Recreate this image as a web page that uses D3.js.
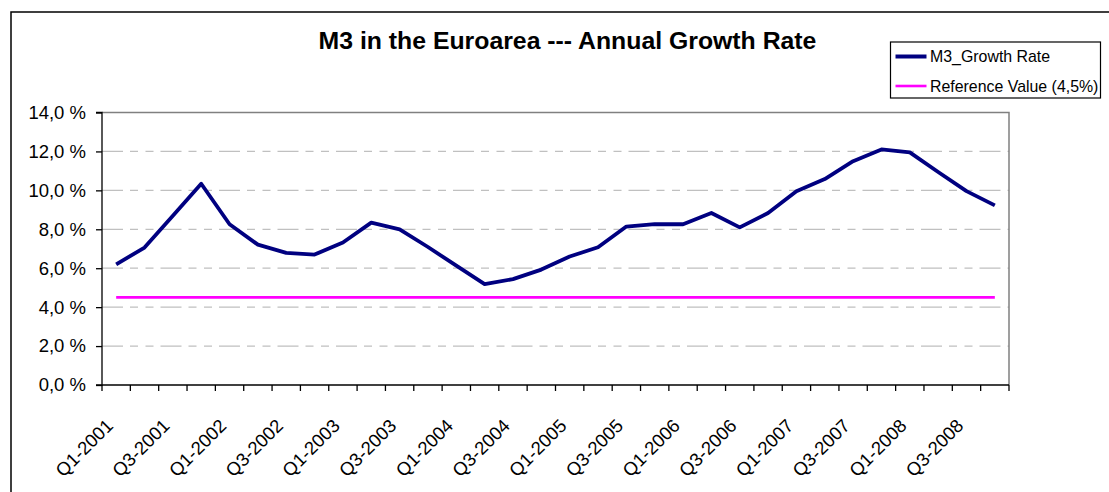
<!DOCTYPE html>
<html>
<head>
<meta charset="utf-8">
<script src="https://cdn.jsdelivr.net/npm/d3@7"></script>
<style>
  html, body { margin: 0; padding: 0; background: #fff; }
  svg { display: block; font-family: "Liberation Sans", Arial, sans-serif; }
</style>
</head>
<body>
<svg id="chart" width="1109" height="492"></svg>
<script>
const categories = [
  "Q1-2001","Q2-2001","Q3-2001","Q4-2001",
  "Q1-2002","Q2-2002","Q3-2002","Q4-2002",
  "Q1-2003","Q2-2003","Q3-2003","Q4-2003",
  "Q1-2004","Q2-2004","Q3-2004","Q4-2004",
  "Q1-2005","Q2-2005","Q3-2005","Q4-2005",
  "Q1-2006","Q2-2006","Q3-2006","Q4-2006",
  "Q1-2007","Q2-2007","Q3-2007","Q4-2007",
  "Q1-2008","Q2-2008","Q3-2008","Q4-2008"
];
const m3Growth = [
  6.2, 7.06, 8.7, 10.34,
  8.26, 7.21, 6.79, 6.70,
  7.32, 8.34, 8.0, 7.09,
  6.13, 5.18, 5.44, 5.93,
  6.6, 7.08, 8.14, 8.26,
  8.26, 8.84, 8.1, 8.84,
  9.96, 10.58, 11.5, 12.1,
  11.95, 10.94, 9.96, 9.23
];
const referenceValue = categories.map(() => 4.5);
const yTicks = [0, 2, 4, 6, 8, 10, 12, 14];
const xTickLabels = ["Q1-2001","Q3-2001","Q1-2002","Q3-2002","Q1-2003","Q3-2003","Q1-2004","Q3-2004",
  "Q1-2005","Q3-2005","Q1-2006","Q3-2006","Q1-2007","Q3-2007","Q1-2008","Q3-2008"];
const seriesNames = ["M3_Growth Rate", "Reference Value (4,5%)"];
const title = "M3 in the Euroarea --- Annual Growth Rate";

const svg = d3.select("#chart");
const W = 1109, H = 492;
const plot = { left: 102, right: 1009, top: 112.5, bottom: 385 };

const x = d3.scaleBand().domain(categories).range([plot.left, plot.right]);
const y = d3.scaleLinear().domain([0, 14]).range([plot.bottom, plot.top]);
const cx = d => x(d) + x.bandwidth() / 2;

const locale = d3.formatLocale({ decimal: ",", thousands: ".", grouping: [3], currency: ["", " €"] });
const fmt = locale.format(".1f");

// outer chart border (extends beyond the image on the right/bottom)
svg.append("rect")
  .attr("x", 11).attr("y", 12)
  .attr("width", W + 20).attr("height", H + 20)
  .attr("fill", "#fff").attr("stroke", "#000").attr("stroke-width", 1.5);

// gridlines
svg.append("g").selectAll("line").data(yTicks.filter(t => t > 0 && t < 14)).join("line")
  .attr("x1", plot.left).attr("x2", plot.right)
  .attr("y1", d => y(d)).attr("y2", d => y(d))
  .attr("stroke", "#c0c0c0").attr("stroke-width", 1.3)
  .attr("stroke-dasharray", "21,7,8,7.5,8,7");

// plot area border (top/right)
svg.append("path")
  .attr("d", `M${plot.left},${plot.top}H${plot.right}V${plot.bottom}`)
  .attr("fill", "none").attr("stroke", "#808080").attr("stroke-width", 1.5);

// y axis
const yAxis = d3.axisLeft(y).tickValues(yTicks).tickSize(6).tickPadding(10)
  .tickFormat(d => fmt(d) + " %");
const gy = svg.append("g").attr("transform", `translate(${plot.left},0)`).call(yAxis);
gy.select(".domain").attr("stroke", "#000").attr("stroke-width", 1.3).attr("d", `M-6,${plot.top}H0V${plot.bottom}H-6`);
gy.selectAll(".tick line").attr("stroke", "#000").attr("stroke-width", 1.3);
gy.selectAll(".tick text").attr("font-size", 18.5).attr("fill", "#000")
  .attr("font-family", "Liberation Sans, Arial, sans-serif");

// x axis
const gx = svg.append("g");
gx.append("line").attr("x1", plot.left).attr("x2", plot.right)
  .attr("y1", plot.bottom).attr("y2", plot.bottom).attr("stroke", "#000").attr("stroke-width", 1.3);
const boundaries = categories.map(c => x(c)).concat([plot.right]);
gx.selectAll("line.tk").data(boundaries).join("line").attr("class", "tk")
  .attr("x1", d => d).attr("x2", d => d)
  .attr("y1", plot.bottom).attr("y2", plot.bottom + 6)
  .attr("stroke", "#000").attr("stroke-width", 1.3);
gx.selectAll("text").data(xTickLabels).join("text")
  .attr("transform", d => `translate(${cx(d) - 2},${plot.bottom + 42}) rotate(-45)`)
  .attr("text-anchor", "end")
  .attr("font-size", 18.5)
  .attr("fill", "#000")
  .text(d => d);

// reference line
const line = d3.line().x((d, i) => cx(categories[i])).y(d => y(d));
svg.append("path").datum(referenceValue)
  .attr("d", line).attr("fill", "none")
  .attr("stroke", "#ff00ff").attr("stroke-width", 2.6);

// M3 line
svg.append("path").datum(m3Growth)
  .attr("d", line).attr("fill", "none")
  .attr("stroke", "#000080").attr("stroke-width", 3.8)
  .attr("stroke-linejoin", "round");

// title
svg.append("text").attr("x", 567.5).attr("y", 48.5)
  .attr("text-anchor", "middle").attr("font-size", 24.8).attr("font-weight", "bold")
  .attr("fill", "#000").text(title);

// legend
const lg = svg.append("g");
lg.append("rect").attr("x", 890.5).attr("y", 42).attr("width", 210).attr("height", 56)
  .attr("fill", "#fff").attr("stroke", "#000").attr("stroke-width", 1.2);
const legendColors = ["#000080", "#ff00ff"];
const legendWidths = [4, 2.6];
const rowY = [56.5, 86];
seriesNames.forEach((name, i) => {
  lg.append("line").attr("x1", 895.5).attr("x2", 926.5).attr("y1", rowY[i]).attr("y2", rowY[i])
    .attr("stroke", legendColors[i]).attr("stroke-width", legendWidths[i]);
  lg.append("text").attr("x", 930).attr("y", rowY[i] + 5.8)
    .attr("font-size", 15.9).attr("fill", "#000").text(name);
});
</script>
</body>
</html>
